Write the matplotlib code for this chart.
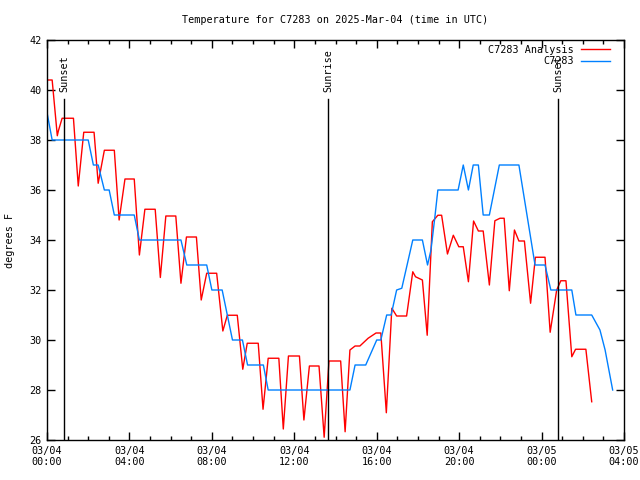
"""Temperature for C7283: analysis vs. station observations, gnuplot-like look."""

import matplotlib

matplotlib.use("Agg")
import matplotlib.pyplot as plt
from matplotlib.ticker import FixedLocator, MultipleLocator

# minutes since 2025-03-04 00:00 UTC, temperature in degrees F
analysis_min = [
    0, 15, 30, 33, 44, 77, 91, 107, 137, 149, 167, 196, 210, 227, 254, 269,
    285, 315, 330, 346, 375, 390, 406, 435, 449, 465, 494, 512, 525, 554, 570,
    583, 615, 629, 644, 675, 688, 703, 735, 748, 764, 792, 807, 821, 855, 868,
    882, 897, 911, 935, 958, 972, 988, 1004, 1018, 1047, 1065, 1073, 1093,
    1107, 1122, 1138, 1149, 1166, 1183, 1199, 1212, 1227, 1242, 1256, 1270,
    1288, 1304, 1319, 1331, 1346, 1361, 1374, 1390, 1408, 1422, 1450, 1465,
    1484, 1496, 1511, 1528, 1539, 1569, 1586,
]
analysis_temp = [
    40.4, 40.4, 38.17, 38.36, 38.87, 38.87, 36.16, 38.31, 38.31, 36.27, 37.59,
    37.59, 34.8, 36.44, 36.44, 33.4, 35.23, 35.23, 32.5, 34.96, 34.96, 32.27,
    34.12, 34.12, 31.6, 32.67, 32.67, 30.36, 30.99, 30.99, 28.83, 29.87, 29.87,
    27.23, 29.27, 29.27, 26.44, 29.36, 29.36, 26.8, 28.96, 28.96, 26.11, 29.16,
    29.16, 26.33, 29.6, 29.76, 29.76, 30.07, 30.28, 30.28, 27.09, 31.27, 30.96,
    30.96, 32.73, 32.53, 32.4, 30.19, 34.73, 34.99, 34.99, 33.44, 34.19, 33.73,
    33.73, 32.33, 34.76, 34.36, 34.36, 32.2, 34.77, 34.87, 34.87, 31.97, 34.4,
    33.96, 33.96, 31.47, 33.31, 33.31, 30.31, 32.0, 32.37, 32.37, 29.33, 29.63,
    29.63, 27.53,
]

station_min = [
    0, 15, 120, 135, 149, 167, 181, 196, 254, 269, 390, 407, 465, 480, 510,
    540, 569, 584, 630, 644, 882, 897, 928, 960, 972, 989, 1002, 1018, 1033,
    1065, 1093, 1108, 1118, 1130, 1138, 1197, 1212, 1227, 1241, 1256, 1270,
    1288, 1317, 1374, 1421, 1450, 1467, 1528, 1540, 1586, 1610, 1625, 1647,
]
station_temp = [
    39.1, 38, 38, 37, 37, 36, 36, 35, 35, 34, 34, 33, 33, 32, 32, 30, 30, 29,
    29, 28, 28, 29, 29, 30, 30, 31, 31, 32, 32.07, 34, 34, 33, 33.6, 35, 36, 36,
    37, 36, 37, 37, 35, 35, 37, 37, 33, 33, 32, 32, 31, 31, 30.4, 29.6, 28,
]

sun_events = ["Sunset", "Sunrise", "Sunset"]
sun_min = [50, 819, 1489]

tick_labels = [
    "03/04\n00:00", "03/04\n04:00", "03/04\n08:00", "03/04\n12:00",
    "03/04\n16:00", "03/04\n20:00", "03/05\n00:00", "03/05\n04:00",
]

FONT = "DejaVu Sans Mono"
FS = 7.3


def main() -> None:
    plt.rcParams["font.family"] = FONT
    fig = plt.figure(figsize=(6.4, 4.8), dpi=100)
    ax = fig.add_axes([47 / 640, 40 / 480, 577 / 640, 400 / 480])

    ax.plot([m / 60 for m in analysis_min], analysis_temp, color="#ff0000",
            lw=1.0, label="C7283 Analysis")
    ax.plot([m / 60 for m in station_min], station_temp, color="#0080ff",
            lw=1.0, label="C7283")

    for name, minute in zip(sun_events, sun_min):
        hour = minute / 60
        ax.plot([hour, hour], [26, 39.64], color="black", lw=1.0)
        ax.text(hour + 0.02, 39.9, name, rotation=90, ha="center", va="bottom",
                fontsize=FS)

    ax.set_xlim(0, 28)
    ax.set_ylim(26, 42)
    ax.xaxis.set_major_locator(FixedLocator(range(0, 29, 4)))
    ax.xaxis.set_minor_locator(MultipleLocator(1))
    ax.set_xticklabels(tick_labels)
    ax.yaxis.set_major_locator(MultipleLocator(2))
    ax.tick_params(which="both", direction="in", top=True, right=True,
                   labelsize=FS, width=1.0, pad=4)
    ax.tick_params(which="major", length=6)
    ax.tick_params(which="minor", length=3)
    for spine in ax.spines.values():
        spine.set_linewidth(1.0)

    ax.set_ylabel("degrees F", fontsize=FS, labelpad=10)
    ax.set_title("Temperature for C7283 on 2025-Mar-04 (time in UTC)",
                 fontsize=FS, pad=12)

    leg = ax.legend(loc="upper right", bbox_to_anchor=(0.983, 0.998),
                    frameon=False, fontsize=FS, markerfirst=False,
                    handlelength=2.9, handletextpad=0.7, labelspacing=0.15,
                    borderaxespad=0.0)
    for text in leg.get_texts():
        text.set_ha("right")
    leg._legend_box.align = "right"

    fig.savefig("out.png", dpi=100)
    plt.close(fig)


if __name__ == "__main__":
    main()
